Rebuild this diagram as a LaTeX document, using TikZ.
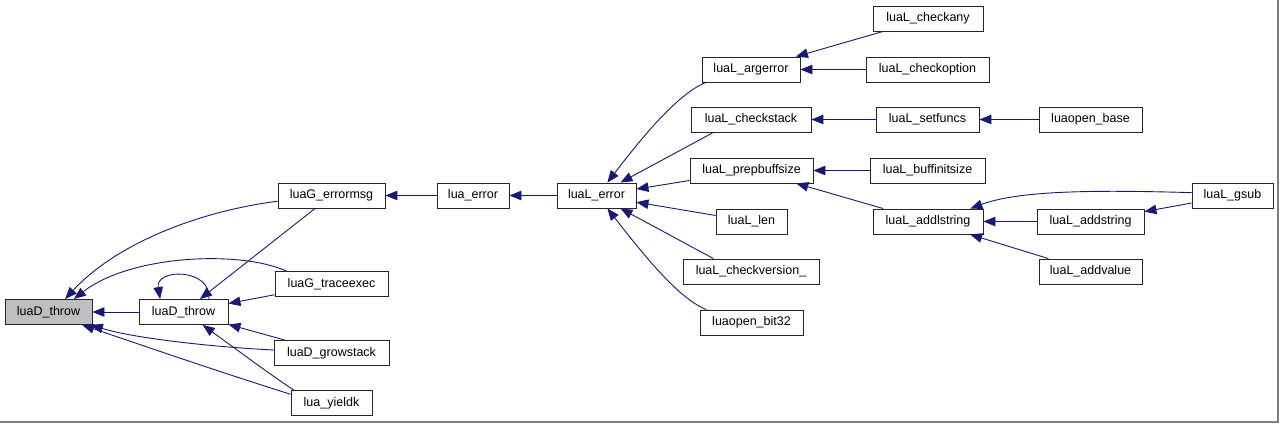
\documentclass[tikz,border=0pt]{standalone}
\usepackage{fontspec}
\setmainfont{Liberation Sans}
\usetikzlibrary{arrows.meta}
\definecolor{edgeblue}{HTML}{191970}
\definecolor{rootgray}{HTML}{BFBFBF}
\definecolor{framegray}{HTML}{7F7F7F}

\begin{document}
\begin{tikzpicture}[x=1pt, y=-1pt,
    box/.style={draw=black!85, line width=0.9pt, fill=white, minimum height=25pt, inner sep=0pt, font=\fontsize{12.5}{14}\selectfont},
    call/.style={draw=edgeblue, line width=0.9pt, -{Triangle[length=12pt,width=9.5pt]}}]
    \useasboundingbox (0,0) rectangle (1279,423);
    \fill[white] (0,0) rectangle (1279,423);
    \draw[framegray, line width=1.5pt] (1278,0) -- (1278,422) -- (0,422);

    % Left part
    \node[box, fill=rootgray, minimum width=87pt] (throw) at (48.5,312) {luaD\_throw};
    \node[box, minimum width=89pt] (throwb) at (183.5,312) {luaD\_throw};
    \node[box, minimum width=107pt] (errormsg) at (331.5,195.5) {luaG\_errormsg};
    \node[box, minimum width=113pt] (traceexec) at (331.5,284) {luaG\_traceexec};
    \node[box, minimum width=115pt] (growstack) at (331.5,353) {luaD\_growstack};
    \node[box, minimum width=81pt] (yieldk) at (331.5,403) {lua\_yieldk};

    % Middle part
    \node[box, minimum width=72pt] (luaerror) at (473,195.5) {lua\_error};
    \node[box, minimum width=79pt] (auxerror) at (596.5,195.5) {luaL\_error};
    \node[box, minimum width=98pt] (argerror) at (751,69.5) {luaL\_argerror};
    \node[box, minimum width=120pt] (checkstack) at (751,119.5) {luaL\_checkstack};
    \node[box, minimum width=123pt] (prepbuff) at (751.5,170.5) {luaL\_prepbuffsize};
    \node[box, minimum width=71pt] (len) at (751.5,221.5) {luaL\_len};
    \node[box, minimum width=136pt] (checkversion) at (751,271.5) {luaL\_checkversion\_};
    \node[box, minimum width=103pt] (bitlib) at (751.5,322.5) {luaopen\_bit32};

    % Right part
    \node[box, minimum width=110pt] (checkany) at (928,18.5) {luaL\_checkany};
    \node[box, minimum width=123pt] (checkoption) at (927.5,69.5) {luaL\_checkoption};
    \node[box, minimum width=103pt] (setfuncs) at (927.5,119.5) {luaL\_setfuncs};
    \node[box, minimum width=103pt] (openbase) at (1090.5,119.5) {luaopen\_base};
    \node[box, minimum width=115pt] (buffinit) at (927.5,170.5) {luaL\_buffinitsize};
    \node[box, minimum width=110pt] (addlstring) at (928,221.5) {luaL\_addlstring};
    \node[box, minimum width=107pt] (addstring) at (1090.5,221.5) {luaL\_addstring};
    \node[box, minimum width=103pt] (addvalue) at (1090.5,271.5) {luaL\_addvalue};
    \node[box, minimum width=81pt] (gsub) at (1232.5,195.5) {luaL\_gsub};

    % Calls into luaD_throw
    \draw[call] (throwb) -- (throw);
    \draw[call] (errormsg.186) .. controls (195,212) and (115,245) .. (throw.38);
    \draw[call] (traceexec.164) .. controls (240,250) and (130,255) .. (throw.27);
    \draw[call] (growstack.177) .. controls (230,348) and (140,340) .. (throw.-17);
    \draw[call] (yieldk.168) .. controls (220,372) and (150,348) .. (throw.-21);
    \draw[call] (throwb.27) .. controls (212,268) and (155,268) .. (throwb.151);
    \draw[call] (errormsg) -- (throwb);
    \draw[call] (traceexec) -- (throwb);
    \draw[call] (growstack) -- (throwb);
    \draw[call] (yieldk.161) .. controls (275,378) and (240,352) .. (throwb.-34);

    % Calls into the error chain
    \draw[call] (luaerror) -- (errormsg);
    \draw[call] (auxerror) -- (luaerror);
    \draw[call] (argerror.196) .. controls (677,94) and (640,140) .. (auxerror.50);
    \draw[call] (checkstack.199) -- (auxerror);
    \draw[call] (prepbuff) -- (auxerror);
    \draw[call] (len) -- (auxerror);
    \draw[call] (checkversion.161) -- (auxerror);
    \draw[call] (bitlib.164) .. controls (677,298) and (640,250) .. (auxerror.-50);

    % Callers on the right
    \draw[call] (checkany) -- (argerror);
    \draw[call] (checkoption) -- (argerror);
    \draw[call] (setfuncs) -- (checkstack);
    \draw[call] (openbase) -- (setfuncs);
    \draw[call] (buffinit) -- (prepbuff);
    \draw[call] (addlstring) -- (prepbuff);
    \draw[call] (addstring) -- (addlstring);
    \draw[call] (addvalue) -- (addlstring);
    \draw[call] (gsub.176) .. controls (1100,190) and (1020,190) .. (addlstring.17);
    \draw[call] (gsub) -- (addstring);
\end{tikzpicture}
\end{document}
